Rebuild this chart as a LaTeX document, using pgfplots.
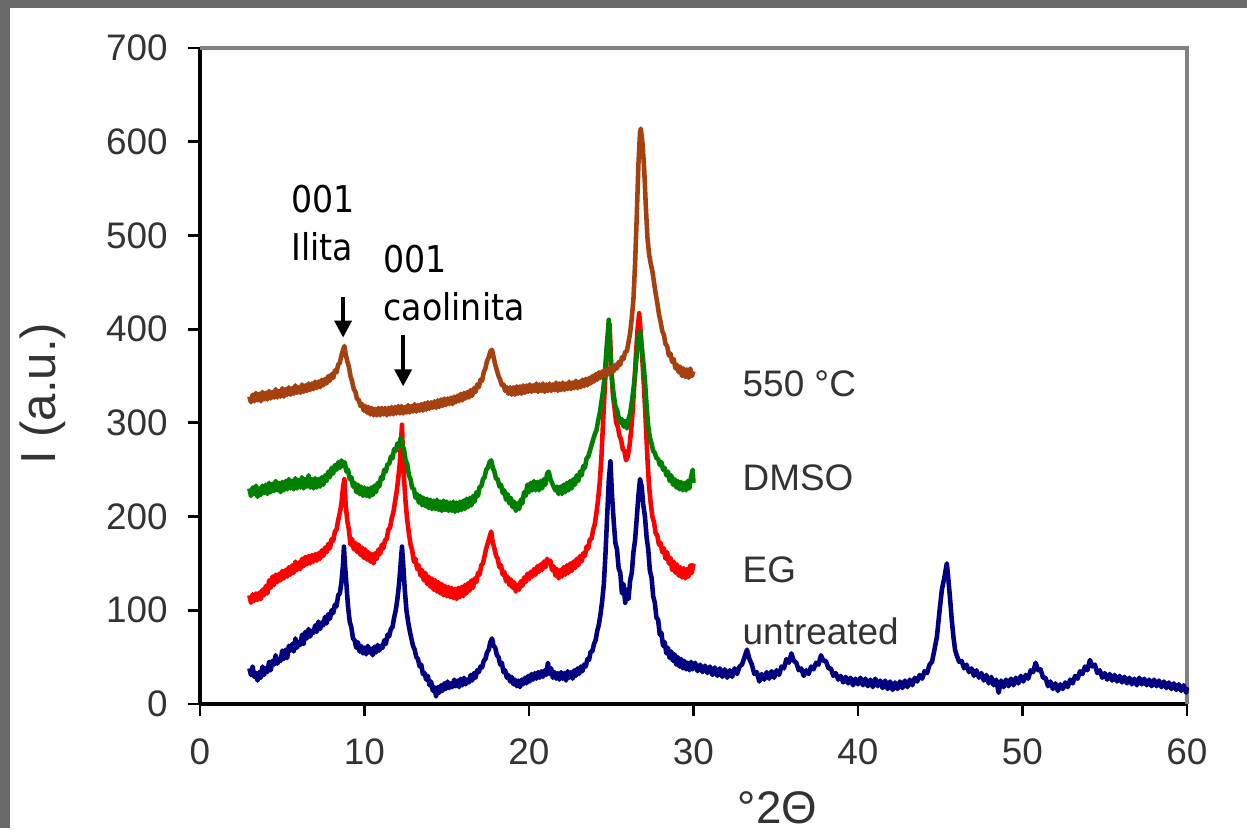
\documentclass[border=0pt]{standalone}
\usepackage{pgfplots}
\pgfplotsset{compat=1.18}
\usetikzlibrary{arrows.meta}
\usepackage{fontspec}
\setmainfont{Liberation Sans}
\newfontfamily\annfont{DejaVu Sans Condensed}

\definecolor{frame}{RGB}{105,105,105}
\definecolor{untr}{RGB}{0,0,128}
\definecolor{eg}{RGB}{255,0,0}
\definecolor{dmso}{RGB}{0,128,0}
\definecolor{burnt}{RGB}{165,65,15}

\begin{document}
\begin{tikzpicture}
% slide background: grey frame on the left and top
\fill[frame] (-2.00,-1.24) rectangle (10.47,7.04);
\fill[white] (-1.90,-1.24) rectangle (10.47,6.96);

\begin{axis}[
    at={(0,0)}, anchor=south west,
    scale only axis, width=9.87cm, height=6.56cm,
    xmin=0, xmax=60, ymin=0, ymax=700,
    xtick={0,10,...,60}, ytick={0,100,...,700},
    axis lines*=left,
    axis line style={black, line width=0.9pt},
    tick align=outside, major tick length=0.12cm,
    tick style={black, line width=0.8pt},
    /pgf/number format/assume math mode=true,
    ticklabel style={font=\fontsize{10.5}{12}\selectfont, text=black!80},
    xticklabel style={yshift=-0.1cm},
    yticklabel style={xshift=-0.08cm},
    clip=false,
    every axis plot/.append style={line width=1.3pt, line join=round},
]
\draw[gray, line width=0.9pt] (rel axis cs:0,1) -- (rel axis cs:1,1) -- (rel axis cs:1,0);

% untreated
\addplot[untr] coordinates {
(3.0,38)(3.1,31)(3.2,40)(3.3,29)(3.4,33)(3.5,25)(3.6,34)(3.7,28)(3.8,40)(3.9,31)
(4.0,38)(4.1,34)(4.2,45)(4.3,36)(4.4,46)(4.5,42)(4.6,52)(4.7,43)(4.8,48)(4.9,46)
(5.0,57)(5.1,48)(5.2,58)(5.3,49)(5.4,62)(5.5,57)(5.6,64)(5.7,56)(5.8,70)(5.9,60)
(6.0,66)(6.1,63)(6.2,74)(6.3,64)(6.4,77)(6.5,70)(6.6,80)(6.7,72)(6.8,78)(6.9,76)
(7.0,84)(7.1,77)(7.2,88)(7.3,80)(7.4,87)(7.5,84)(7.6,93)(7.7,86)(7.8,96)(7.9,91)
(8.0,100)(8.1,97)(8.2,106)(8.3,104)(8.4,116)(8.5,118)(8.6,130)(8.7,150)(8.75,168)(8.8,152)
(8.9,128)(9.0,104)(9.1,88)(9.2,82)(9.3,70)(9.4,68)(9.5,60)(9.6,66)(9.7,56)(9.8,62)
(9.9,54)(10.0,60)(10.1,53)(10.2,62)(10.3,55)(10.4,59)(10.5,52)(10.6,61)(10.7,55)(10.8,63)
(10.9,57)(11.0,62)(11.1,60)(11.2,68)(11.3,64)(11.4,74)(11.5,72)(11.6,80)(11.7,82)(11.8,92)
(11.9,100)(12.0,112)(12.1,128)(12.2,150)(12.28,168)(12.35,150)(12.45,122)(12.55,100)(12.65,88)(12.75,78)
(12.85,70)(12.95,62)(13.05,58)(13.15,50)(13.25,48)(13.35,40)(13.45,42)(13.55,32)(13.65,33)(13.75,26)
(13.85,30)(13.95,20)(14.05,24)(14.15,14)(14.25,18)(14.35,8)(14.45,18)(14.55,12)(14.65,20)(14.75,14)
(14.85,22)(14.95,16)(15.05,24)(15.15,17)(15.25,22)(15.35,18)(15.45,26)(15.55,19)(15.65,25)(15.75,18)
(15.85,27)(15.95,20)(16.05,28)(16.15,21)(16.25,26)(16.35,23)(16.45,31)(16.55,25)(16.65,33)(16.75,28)
(16.85,36)(16.95,34)(17.05,40)(17.15,39)(17.25,46)(17.35,48)(17.45,55)(17.55,58)(17.65,66)(17.75,70)
(17.85,62)(17.95,60)(18.05,52)(18.15,50)(18.25,42)(18.35,44)(18.45,34)(18.55,36)(18.65,28)(18.75,31)
(18.85,24)(18.95,29)(19.05,21)(19.15,26)(19.25,19)(19.35,25)(19.45,18)(19.55,26)(19.65,21)(19.75,28)
(19.85,22)(19.95,30)(20.05,24)(20.15,32)(20.25,26)(20.35,33)(20.45,27)(20.55,34)(20.65,28)(20.75,35)
(20.85,29)(20.95,36)(21.05,31)(21.15,44)(21.25,32)(21.35,38)(21.45,28)(21.55,34)(21.65,27)(21.75,33)
(21.85,26)(21.95,34)(22.05,27)(22.15,33)(22.25,25)(22.35,35)(22.45,28)(22.55,34)(22.65,27)(22.75,36)
(22.85,30)(22.95,38)(23.05,32)(23.15,40)(23.25,35)(23.35,42)(23.45,40)(23.55,48)(23.65,47)(23.75,56)
(23.85,56)(23.95,64)(24.05,68)(24.15,78)(24.25,85)(24.35,96)(24.45,110)(24.55,128)(24.65,160)(24.75,200)
(24.85,238)(24.95,259)(25.05,222)(25.15,195)(25.25,172)(25.35,165)(25.45,145)(25.55,140)(25.65,118)(25.75,128)
(25.85,108)(25.95,122)(26.05,112)(26.15,132)(26.25,140)(26.35,162)(26.45,175)(26.55,198)(26.65,222)(26.75,240)
(26.85,232)(26.95,212)(27.05,200)(27.15,178)(27.25,165)(27.35,142)(27.45,135)(27.55,115)(27.65,108)(27.75,92)
(27.85,90)(27.95,74)(28.05,76)(28.15,62)(28.25,66)(28.35,54)(28.45,60)(28.55,49)(28.65,56)(28.75,46)
(28.85,53)(28.95,42)(29.05,50)(29.15,40)(29.25,48)(29.35,38)(29.45,46)(29.55,37)(29.65,44)(29.75,36)
(29.85,45)(29.95,37)(30.1,44)(30.25,35)(30.4,42)(30.55,34)(30.7,41)(30.85,33)(31.0,40)(31.15,31)
(31.3,39)(31.45,30)(31.6,38)(31.75,29)(31.9,37)(32.05,28)(32.2,36)(32.35,29)(32.5,38)(32.65,32)
(32.8,40)(32.95,42)(33.1,50)(33.25,58)(33.4,48)(33.55,42)(33.7,32)(33.85,34)(34.0,24)(34.15,32)
(34.3,26)(34.45,34)(34.6,27)(34.75,35)(34.9,28)(35.05,36)(35.2,31)(35.35,40)(35.5,38)(35.65,48)
(35.8,44)(35.95,54)(36.1,46)(36.25,44)(36.4,36)(36.55,38)(36.7,30)(36.85,36)(37.0,32)(37.15,40)
(37.3,37)(37.45,44)(37.6,42)(37.75,52)(37.9,46)(38.05,46)(38.2,38)(38.35,38)(38.5,30)(38.65,33)
(38.8,26)(38.95,30)(39.1,23)(39.25,29)(39.4,22)(39.55,28)(39.7,20)(39.85,27)(40.0,21)(40.15,28)
(40.3,20)(40.45,27)(40.6,19)(40.75,26)(40.9,18)(41.05,27)(41.2,19)(41.35,25)(41.5,17)(41.65,25)
(41.8,16)(41.95,24)(42.1,15)(42.25,23)(42.4,16)(42.55,24)(42.7,17)(42.85,25)(43.0,18)(43.15,26)
(43.3,20)(43.45,28)(43.6,24)(43.75,31)(43.9,27)(44.05,35)(44.2,33)(44.35,42)(44.5,45)(44.65,58)
(44.8,72)(44.95,98)(45.1,122)(45.25,135)(45.4,150)(45.5,132)(45.6,112)(45.7,90)(45.8,72)(45.9,58)
(46.0,52)(46.15,45)(46.3,46)(46.45,38)(46.6,42)(46.75,34)(46.9,38)(47.05,30)(47.2,36)(47.35,28)
(47.5,33)(47.65,25)(47.8,31)(47.95,22)(48.1,29)(48.25,20)(48.4,26)(48.55,12)(48.7,25)(48.85,18)
(49.0,26)(49.15,19)(49.3,27)(49.45,20)(49.6,28)(49.75,22)(49.9,30)(50.05,24)(50.2,31)(50.35,27)
(50.5,36)(50.65,34)(50.8,44)(50.95,36)(51.1,37)(51.25,28)(51.4,28)(51.55,19)(51.7,24)(51.85,16)
(52.0,22)(52.15,14)(52.3,21)(52.45,16)(52.6,23)(52.75,18)(52.9,26)(53.05,22)(53.2,30)(53.35,27)
(53.5,35)(53.65,32)(53.8,40)(53.95,36)(54.1,47)(54.25,40)(54.4,42)(54.55,33)(54.7,36)(54.85,28)
(55.0,33)(55.15,26)(55.3,32)(55.45,25)(55.6,31)(55.75,24)(55.9,30)(56.05,23)(56.2,29)(56.35,22)
(56.5,28)(56.65,21)(56.8,27)(56.95,20)(57.1,28)(57.25,21)(57.4,27)(57.55,20)(57.7,26)(57.85,19)
(58.0,26)(58.15,19)(58.3,25)(58.45,18)(58.6,24)(58.75,17)(58.9,23)(59.05,16)(59.2,22)(59.35,15)
(59.5,21)(59.65,14)(59.8,20)(59.95,12)(60.0,18)
};

% EG
\addplot[eg] coordinates {
(3.0,116)(3.1,108)(3.2,117)(3.3,110)(3.4,118)(3.5,111)(3.6,119)(3.7,112)(3.8,122)(3.9,116)
(4.0,126)(4.1,118)(4.2,132)(4.3,124)(4.4,136)(4.5,127)(4.6,138)(4.7,130)(4.8,139)(4.9,132)
(5.0,142)(5.1,134)(5.2,143)(5.3,136)(5.4,146)(5.5,138)(5.6,148)(5.7,140)(5.8,152)(5.9,143)
(6.0,151)(6.1,144)(6.2,155)(6.3,147)(6.4,157)(6.5,149)(6.6,158)(6.7,150)(6.8,159)(6.9,152)
(7.0,160)(7.1,153)(7.2,161)(7.3,155)(7.4,164)(7.5,158)(7.6,167)(7.7,162)(7.8,171)(7.9,166)
(8.0,176)(8.1,174)(8.2,184)(8.3,186)(8.4,196)(8.5,204)(8.6,214)(8.7,232)(8.78,240)(8.85,214)
(8.95,196)(9.05,186)(9.15,170)(9.25,176)(9.35,165)(9.45,172)(9.55,162)(9.65,170)(9.75,159)(9.85,167)
(9.95,156)(10.05,165)(10.15,154)(10.25,162)(10.35,152)(10.45,160)(10.55,150)(10.65,161)(10.75,155)(10.85,165)
(10.95,160)(11.05,170)(11.15,166)(11.25,175)(11.35,176)(11.45,186)(11.55,188)(11.65,198)(11.75,204)(11.85,215)
(11.95,226)(12.05,240)(12.15,258)(12.22,280)(12.28,298)(12.34,262)(12.42,236)(12.5,215)(12.6,196)(12.7,182)
(12.8,170)(12.9,164)(13.0,152)(13.1,155)(13.2,144)(13.3,148)(13.4,137)(13.5,143)(13.6,132)(13.7,140)
(13.8,128)(13.9,136)(14.0,125)(14.1,134)(14.2,122)(14.3,132)(14.4,120)(14.5,130)(14.6,118)(14.7,128)
(14.8,116)(14.9,126)(15.0,115)(15.1,125)(15.2,114)(15.3,124)(15.4,113)(15.5,123)(15.6,112)(15.7,124)
(15.8,114)(15.9,125)(16.0,115)(16.1,127)(16.2,118)(16.3,129)(16.4,121)(16.5,132)(16.6,124)(16.7,134)
(16.8,130)(16.9,140)(17.0,138)(17.1,148)(17.2,150)(17.3,158)(17.4,166)(17.5,172)(17.6,178)(17.7,184)
(17.8,172)(17.9,166)(18.0,158)(18.1,155)(18.2,146)(18.3,148)(18.4,138)(18.5,141)(18.6,131)(18.7,136)
(18.8,127)(18.9,133)(19.0,124)(19.1,130)(19.2,120)(19.3,127)(19.4,122)(19.5,131)(19.6,126)(19.7,135)
(19.8,130)(19.9,139)(20.0,133)(20.1,141)(20.2,136)(20.3,144)(20.4,138)(20.5,147)(20.6,141)(20.7,149)
(20.8,143)(20.9,152)(21.0,146)(21.1,155)(21.2,150)(21.3,153)(21.4,143)(21.5,147)(21.6,137)(21.7,144)
(21.8,134)(21.9,143)(22.0,136)(22.1,146)(22.2,138)(22.3,148)(22.4,140)(22.5,150)(22.6,142)(22.7,152)
(22.8,145)(22.9,155)(23.0,148)(23.1,158)(23.2,152)(23.3,161)(23.4,158)(23.5,168)(23.6,166)(23.7,176)
(23.8,176)(23.9,186)(24.0,192)(24.1,204)(24.2,218)(24.3,236)(24.4,262)(24.5,300)(24.6,335)(24.7,368)
(24.8,392)(24.9,405)(25.0,360)(25.1,330)(25.2,316)(25.3,300)(25.4,296)(25.5,286)(25.6,282)(25.7,272)
(25.8,270)(25.9,260)(26.0,264)(26.1,274)(26.2,290)(26.3,312)(26.4,340)(26.5,372)(26.6,400)(26.7,417)
(26.8,395)(26.9,365)(27.0,335)(27.1,300)(27.2,262)(27.3,232)(27.4,214)(27.5,200)(27.6,194)(27.7,182)
(27.8,180)(27.9,170)(28.0,172)(28.1,162)(28.2,166)(28.3,155)(28.4,162)(28.5,150)(28.6,156)(28.7,143)
(28.8,152)(28.9,140)(29.0,149)(29.1,137)(29.2,146)(29.3,135)(29.4,145)(29.5,134)(29.6,144)(29.7,136)
(29.8,148)(29.9,140)(30.0,150)
};

% DMSO
\addplot[dmso] coordinates {
(3.0,230)(3.1,222)(3.2,231)(3.3,224)(3.4,233)(3.5,221)(3.6,230)(3.7,223)(3.8,233)(3.9,225)
(4.0,234)(4.1,224)(4.2,236)(4.3,226)(4.4,235)(4.5,227)(4.6,238)(4.7,228)(4.8,236)(4.9,226)
(5.0,237)(5.1,228)(5.2,238)(5.3,229)(5.4,240)(5.5,230)(5.6,238)(5.7,229)(5.8,241)(5.9,230)
(6.0,239)(6.1,231)(6.2,242)(6.3,230)(6.4,240)(6.5,232)(6.6,244)(6.7,231)(6.8,240)(6.9,230)
(7.0,241)(7.1,231)(7.2,240)(7.3,232)(7.4,242)(7.5,234)(7.6,244)(7.7,238)(7.8,248)(7.9,242)
(8.0,252)(8.1,246)(8.2,255)(8.3,250)(8.4,258)(8.5,252)(8.6,260)(8.7,254)(8.8,258)(8.9,248)
(9.0,250)(9.1,240)(9.2,242)(9.3,232)(9.4,236)(9.5,226)(9.6,234)(9.7,224)(9.8,232)(9.9,222)
(10.0,231)(10.1,222)(10.2,230)(10.3,221)(10.4,231)(10.5,223)(10.6,233)(10.7,226)(10.8,236)(10.9,232)
(11.0,242)(11.1,240)(11.2,250)(11.3,248)(11.4,256)(11.5,256)(11.6,264)(11.7,262)(11.8,272)(11.9,270)
(12.0,278)(12.1,276)(12.2,284)(12.3,276)(12.4,272)(12.5,260)(12.6,256)(12.7,244)(12.8,240)(12.9,230)
(13.0,230)(13.1,220)(13.2,224)(13.3,215)(13.4,222)(13.5,212)(13.6,220)(13.7,211)(13.8,219)(13.9,209)
(14.0,218)(14.1,208)(14.2,217)(14.3,208)(14.4,218)(14.5,207)(14.6,216)(14.7,206)(14.8,217)(14.9,207)
(15.0,216)(15.1,206)(15.2,215)(15.3,206)(15.4,216)(15.5,205)(15.6,215)(15.7,206)(15.8,216)(15.9,207)
(16.0,217)(16.1,208)(16.2,219)(16.3,210)(16.4,220)(16.5,212)(16.6,222)(16.7,216)(16.8,226)(16.9,222)
(17.0,232)(17.1,232)(17.2,240)(17.3,242)(17.4,250)(17.5,252)(17.6,258)(17.7,260)(17.8,252)(17.9,248)
(18.0,240)(18.1,240)(18.2,232)(18.3,234)(18.4,225)(18.5,228)(18.6,218)(18.7,224)(18.8,214)(18.9,220)
(19.0,210)(19.1,216)(19.2,206)(19.3,214)(19.4,208)(19.5,218)(19.6,214)(19.7,226)(19.8,222)(19.9,234)
(20.0,226)(20.1,236)(20.2,228)(20.3,238)(20.4,228)(20.5,237)(20.6,228)(20.7,238)(20.8,230)(20.9,240)
(21.0,234)(21.1,246)(21.2,248)(21.3,240)(21.4,236)(21.5,232)(21.6,228)(21.7,232)(21.8,224)(21.9,232)
(22.0,224)(22.1,234)(22.2,226)(22.3,236)(22.4,228)(22.5,238)(22.6,230)(22.7,240)(22.8,234)(22.9,244)
(23.0,238)(23.1,248)(23.2,244)(23.3,254)(23.4,252)(23.5,262)(23.6,264)(23.7,270)(23.8,276)(23.9,282)
(24.0,288)(24.1,292)(24.2,302)(24.3,310)(24.4,322)(24.5,334)(24.6,350)(24.7,376)(24.8,398)(24.85,410)
(24.95,372)(25.05,345)(25.15,330)(25.25,318)(25.35,314)(25.45,306)(25.55,300)(25.65,304)(25.75,296)(25.85,302)
(25.95,294)(26.05,304)(26.15,310)(26.25,322)(26.35,336)(26.45,352)(26.55,372)(26.65,390)(26.75,398)(26.85,382)
(26.95,365)(27.05,345)(27.15,318)(27.25,296)(27.35,284)(27.45,278)(27.55,270)(27.65,268)(27.75,262)(27.85,262)
(27.95,255)(28.05,258)(28.15,250)(28.25,252)(28.35,244)(28.45,248)(28.55,238)(28.65,244)(28.75,234)(28.85,240)
(28.95,231)(29.05,238)(29.15,229)(29.25,237)(29.35,228)(29.45,236)(29.55,228)(29.65,238)(29.75,230)(29.85,242)
(29.95,250)(30.0,236)
};

% 550 C
\addplot[burnt] coordinates {
(3.0,328)(3.1,322)(3.2,330)(3.3,323)(3.4,332)(3.5,324)(3.6,331)(3.7,323)(3.8,333)(3.9,325)
(4.0,332)(4.1,325)(4.2,334)(4.3,326)(4.4,333)(4.5,327)(4.6,336)(4.7,327)(4.8,334)(4.9,328)
(5.0,337)(5.1,328)(5.2,336)(5.3,330)(5.4,338)(5.5,330)(5.6,337)(5.7,331)(5.8,340)(5.9,332)
(6.0,338)(6.1,332)(6.2,341)(6.3,333)(6.4,340)(6.5,334)(6.6,342)(6.7,335)(6.8,342)(6.9,336)
(7.0,344)(7.1,337)(7.2,344)(7.3,338)(7.4,346)(7.5,340)(7.6,347)(7.7,342)(7.8,350)(7.9,345)
(8.0,352)(8.1,348)(8.2,356)(8.3,354)(8.4,362)(8.5,364)(8.6,372)(8.7,378)(8.78,382)(8.85,374)
(8.95,366)(9.05,360)(9.15,350)(9.25,344)(9.35,336)(9.45,333)(9.55,325)(9.65,325)(9.75,318)(9.85,320)
(9.95,313)(10.05,318)(10.15,311)(10.25,317)(10.35,309)(10.45,316)(10.55,308)(10.65,315)(10.75,308)(10.85,316)
(10.95,308)(11.05,316)(11.15,309)(11.25,316)(11.35,308)(11.45,316)(11.55,309)(11.65,317)(11.75,309)(11.85,317)
(11.95,310)(12.05,318)(12.15,310)(12.25,318)(12.35,310)(12.45,317)(12.55,311)(12.65,319)(12.75,311)(12.85,318)
(12.95,312)(13.05,320)(13.15,312)(13.25,319)(13.35,313)(13.45,320)(13.55,313)(13.65,321)(13.75,314)(13.85,322)
(13.95,315)(14.05,322)(14.15,316)(14.25,323)(14.35,316)(14.45,324)(14.55,317)(14.65,325)(14.75,318)(14.85,326)
(14.95,319)(15.05,326)(15.15,320)(15.25,327)(15.35,320)(15.45,328)(15.55,322)(15.65,329)(15.75,323)(15.85,331)
(15.95,324)(16.05,332)(16.15,326)(16.25,333)(16.35,327)(16.45,335)(16.55,329)(16.65,337)(16.75,333)(16.85,341)
(16.95,338)(17.05,346)(17.15,345)(17.25,354)(17.35,358)(17.45,366)(17.55,370)(17.65,376)(17.75,378)(17.85,370)
(17.95,362)(18.05,356)(18.15,350)(18.25,346)(18.35,340)(18.45,341)(18.55,334)(18.65,338)(18.75,331)(18.85,338)
(18.95,330)(19.05,338)(19.15,330)(19.25,339)(19.35,331)(19.45,339)(19.55,331)(19.65,340)(19.75,332)(19.85,340)
(19.95,333)(20.05,341)(20.15,333)(20.25,340)(20.35,334)(20.45,342)(20.55,333)(20.65,341)(20.75,334)(20.85,342)
(20.95,333)(21.05,341)(21.15,334)(21.25,342)(21.35,334)(21.45,341)(21.55,335)(21.65,343)(21.75,334)(21.85,342)
(21.95,335)(22.05,343)(22.15,335)(22.25,342)(22.35,336)(22.45,344)(22.55,336)(22.65,343)(22.75,337)(22.85,345)
(22.95,337)(23.05,344)(23.15,338)(23.25,346)(23.35,339)(23.45,347)(23.55,340)(23.65,348)(23.75,342)(23.85,350)
(23.95,344)(24.05,352)(24.15,346)(24.25,354)(24.35,348)(24.45,355)(24.55,350)(24.65,357)(24.75,351)(24.85,358)
(24.95,353)(25.05,360)(25.15,355)(25.25,362)(25.35,358)(25.45,365)(25.55,362)(25.65,370)(25.75,368)(25.85,376)
(25.95,376)(26.05,386)(26.15,396)(26.25,412)(26.35,432)(26.45,470)(26.55,520)(26.65,575)(26.75,610)(26.8,614)
(26.9,598)(27.0,572)(27.1,532)(27.2,498)(27.3,480)(27.4,470)(27.5,462)(27.6,450)(27.7,438)(27.8,428)
(27.9,416)(28.0,408)(28.1,398)(28.2,394)(28.3,384)(28.4,382)(28.5,372)(28.6,374)(28.7,365)(28.8,368)
(28.9,358)(29.0,362)(29.1,354)(29.2,360)(29.3,350)(29.4,358)(29.5,349)(29.6,357)(29.7,348)(29.8,358)
(29.9,350)(30.0,355)
};

% series names
\begin{scope}[every node/.style={anchor=west, inner sep=0pt, text=black!80, font=\fontsize{10.5}{12}\selectfont}]
\node at (axis cs:32.95,342) {550 °C};
\node at (axis cs:32.95,241) {DMSO};
\node at (axis cs:32.95,143) {EG};
\node at (axis cs:32.95,78) {untreated};
\end{scope}

% peak annotations
\node[anchor=north west, inner sep=0pt, align=left, font=\annfont\fontsize{10.5}{13.4}\selectfont]
  at (axis cs:5.53,554) {001\\Ilita};
\node[anchor=north west, inner sep=0pt, align=left, font=\annfont\fontsize{10.5}{13.4}\selectfont]
  at (axis cs:11.12,490) {001\\caolinita};
\draw[line width=1pt, -{Triangle[length=0.17cm,width=0.17cm]}] (axis cs:8.7,434) -- (axis cs:8.7,391);
\draw[line width=1pt, -{Triangle[length=0.17cm,width=0.17cm]}] (axis cs:12.35,394) -- (axis cs:12.35,339);

% axis titles
\node[rotate=90, font=\fontsize{14}{16}\selectfont, text=black!80] at (axis cs:-9.55,331) {I (a.u.)};
\node[font=\fontsize{13}{15}\selectfont, text=black!80] at (axis cs:35.1,-111) {°2Θ};
\end{axis}
\end{tikzpicture}
\end{document}
